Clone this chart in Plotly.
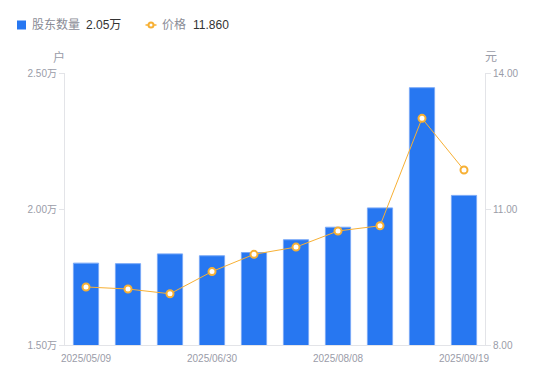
import plotly.graph_objects as go

dates = ["2025/05/09", "2025/05/20", "2025/06/10", "2025/06/30", "2025/07/10",
         "2025/07/20", "2025/08/08", "2025/08/20", "2025/08/31", "2025/09/19"]
holders = [1.801, 1.799, 1.835, 1.828, 1.840, 1.887, 1.933, 2.004, 2.446, 2.050]  # 万户
price = [9.28, 9.235, 9.13, 9.62, 10.00, 10.16, 10.515, 10.63, 13.00, 11.86]
tick_dates = [dates[0], dates[3], dates[6], dates[9]]
left_ticks = [1.5, 2.0, 2.5]
left_labels = ["1.50万", "2.00万", "2.50万"]
right_ticks = [8, 11, 14]
right_labels = ["8.00", "11.00", "14.00"]
series_names = ["股东数量", "价格"]

FONT = "Liberation Sans, Arial, Noto Sans CJK SC, sans-serif"
GREY = "#9a9ca8"
AXIS = "#e3e4e8"
BLUE = "#2777f1"
ORANGE = "#f7b034"

W, H = 550, 381
ML, MR, MT, MB = 65, 65, 73, 36
PW, PH = W - ML - MR, H - MT - MB


def px(x):
    return (x - ML) / PW


def py(y):
    return (H - MB - y) / PH


fig = go.Figure()
fig.add_trace(go.Bar(
    x=dates, y=holders, name=series_names[0],
    marker=dict(color=BLUE, line=dict(color="#7aa9f7", width=1)),
    width=0.6, yaxis="y", showlegend=False, hoverinfo="skip"))
fig.add_trace(go.Scatter(
    x=dates, y=price, name=series_names[1],
    mode="lines+markers", yaxis="y2", showlegend=False,
    line=dict(color=ORANGE, width=1),
    marker=dict(symbol="circle", size=7, color="white",
                line=dict(color=ORANGE, width=2))))

ax_common = dict(showline=True, linecolor=AXIS, ticks="outside", ticklen=5,
                 tickcolor=AXIS, showgrid=False, zeroline=False, automargin=False,
                 tickfont=dict(size=10, color=GREY))

fig.update_layout(
    width=W, height=H,
    margin=dict(l=ML, r=MR, t=MT, b=MB),
    paper_bgcolor="white", plot_bgcolor="white",
    font=dict(family=FONT, size=12, color=GREY),
    showlegend=False,
    xaxis=dict(type="category", tickmode="array", tickvals=tick_dates,
               ticktext=tick_dates, showline=True, linecolor=AXIS,
               ticks="", tickfont=dict(size=10, color=GREY), showgrid=False,
               range=[-0.5, 9.5], automargin=False, ticklabelstandoff=4),
    yaxis=dict(range=[1.5, 2.5], tickvals=left_ticks, ticktext=left_labels, **ax_common),
    yaxis2=dict(range=[8, 14], tickvals=right_ticks, ticktext=right_labels,
                overlaying="y", side="right", **ax_common),
)

annotations = [
    dict(text="户", x=px(58.5), y=py(57), xanchor="center"),
    dict(text="元", x=px(490.5), y=py(57), xanchor="center"),
    # legend texts
    dict(text=series_names[0], x=px(31), y=py(25), xanchor="left",
         font=dict(size=12, color="#8a8c96")),
    dict(text=f"{holders[-1]:.2f}万", x=px(85), y=py(25), xanchor="left",
         font=dict(size=12, color="#333333")),
    dict(text=series_names[1], x=px(161), y=py(25), xanchor="left",
         font=dict(size=12, color="#8a8c96")),
    dict(text=f"{price[-1]:.3f}", x=px(192), y=py(25), xanchor="left",
         font=dict(size=12, color="#333333")),
]
for a in annotations:
    a.setdefault("font", dict(size=12, color=GREY))
    a.update(xref="paper", yref="paper", showarrow=False, yanchor="middle",
             borderpad=0)
fig.update_layout(annotations=annotations)

fig.update_layout(shapes=[
    dict(type="rect", xref="paper", yref="paper", x0=px(17), x1=px(26), y0=py(20.5), y1=py(29.5),
         fillcolor=BLUE, line=dict(width=0)),
    dict(type="line", xref="paper", yref="paper", x0=px(145.5), x1=px(156.5), y0=py(25), y1=py(25),
         line=dict(color=ORANGE, width=1.5)),
    dict(type="circle", xref="paper", yref="paper", x0=px(148.5), x1=px(153.5), y0=py(27.5), y1=py(22.5),
         fillcolor="white", line=dict(color=ORANGE, width=2)),
])

fig.write_html("out.html", config={"displayModeBar": False},
               post_script="document.body.style.margin='0';")
